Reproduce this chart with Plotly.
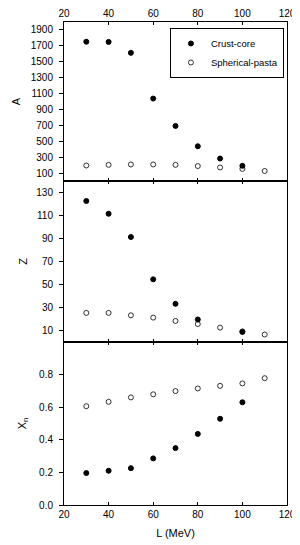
import plotly.graph_objects as go

L = [30, 40, 50, 60, 70, 80, 90, 100, 110]

A_core = [1752, 1750, 1612, 1037, 693, 437, 283, 191, None]
A_pasta = [195, 203, 208, 208, 203, 188, 170, 152, 126]

Z_core = [122.6, 111.5, 91.3, 54.5, 33.2, 19.6, None, 8.8, None]
Z_pasta = [25.3, 25.3, 23.2, 21.2, 18.3, 15.6, 12.5, 9.2, 6.5]

Xn_core = [0.196, 0.210, 0.226, 0.286, 0.349, 0.436, 0.529, 0.630, None]
Xn_pasta = [0.606, 0.633, 0.660, 0.679, 0.699, 0.715, 0.731, 0.746, 0.778]

x_ticks = [20, 40, 60, 80, 100, 120]
A_ticks = [100, 300, 500, 700, 900, 1100, 1300, 1500, 1700, 1900]
Z_ticks = [10, 30, 50, 70, 90, 110, 130]
Xn_ticks = [0.0, 0.2, 0.4, 0.6, 0.8]

FONT = "Liberation Sans, Arial, sans-serif"
fig = go.Figure()

core_marker = dict(symbol="circle", size=5, color="black", line=dict(color="black", width=1))
pasta_marker = dict(symbol="circle-open", size=5, color="black", line=dict(color="black", width=0.8))

panels = [("x3", "y3", A_core, A_pasta, True), ("x2", "y2", Z_core, Z_pasta, False), ("x", "y", Xn_core, Xn_pasta, False)]
for xa, ya, core, pasta, show in panels:
    fig.add_trace(go.Scatter(x=L, y=pasta, mode="markers", marker=pasta_marker, name="Spherical-pasta",
                             xaxis=xa, yaxis=ya, showlegend=show, legendrank=2))
    fig.add_trace(go.Scatter(x=L, y=core, mode="markers", marker=core_marker, name="Crust-core",
                             xaxis=xa, yaxis=ya, showlegend=show, legendrank=1))

tickfont = dict(family=FONT, size=10, color="black")
common_x = dict(range=[20, 120], tickvals=x_ticks, ticks="inside", ticklen=3, tickcolor="black",
                showline=True, linecolor="black", linewidth=1, mirror="ticks", showgrid=False,
                zeroline=False, tickfont=tickfont, ticklabeloverflow="allow", automargin=False)
common_y = dict(ticks="outside", ticklen=4, tickcolor="black", showline=True, linecolor="black",
                linewidth=1, mirror=True, showgrid=False, zeroline=False, tickfont=tickfont,
                ticklabelstandoff=4, automargin=False)
right_y = dict(ticks="inside", ticklen=3, tickcolor="black", showline=False, showgrid=False,
               zeroline=False, showticklabels=False, side="right", anchor="free", position=1.0)

d1 = 163 / 483
d2 = 324 / 483

# page body has an 8px default margin, so the figure is 8px smaller and margins shifted
fig.update_layout(
    width=292, height=537,
    margin=dict(l=56, r=13, t=14, b=40, autoexpand=False),
    paper_bgcolor="white", plot_bgcolor="white",
    font=dict(family=FONT, size=10, color="black"),
    xaxis=dict(common_x, anchor="y", showticklabels=True,
               title=dict(text="L (MeV)", font=dict(family=FONT, size=11), standoff=10)),
    xaxis2=dict(common_x, anchor="y2", showticklabels=False),
    xaxis3=dict(common_x, anchor="y3", side="top", showticklabels=True),
    yaxis=dict(common_y, domain=[0, d1], range=[0, 1.0], tickvals=Xn_ticks, tickformat=".1f",
               title=dict(text="X<sub>n</sub>", font=dict(family=FONT, size=11), standoff=10)),
    yaxis2=dict(common_y, domain=[d1, d2], range=[0, 140], tickvals=Z_ticks,
                title=dict(text="Z", font=dict(family=FONT, size=11), standoff=6)),
    yaxis3=dict(common_y, domain=[d2, 1], range=[0, 2000], tickvals=A_ticks,
                title=dict(text="A", font=dict(family=FONT, size=11), standoff=7)),
    yaxis4=dict(right_y, overlaying="y", range=[0, 1.0], tickvals=Xn_ticks),
    yaxis5=dict(right_y, overlaying="y2", range=[0, 140], tickvals=Z_ticks),
    yaxis6=dict(right_y, overlaying="y3", range=[0, 2000], tickvals=A_ticks),
    legend=dict(x=0.475, y=0.9876, xanchor="left", yanchor="top", bordercolor="black",
                borderwidth=1, bgcolor="white", font=dict(family=FONT, size=9.5), itemwidth=30,
                traceorder="normal"),
    showlegend=True,
)

fig.write_html("out.html", config={"displayModeBar": False})
